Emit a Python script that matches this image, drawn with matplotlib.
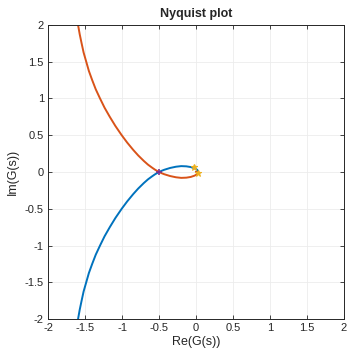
import matplotlib
matplotlib.use("Agg")
import matplotlib.pyplot as plt
import numpy as np

plt.rcParams['font.family'] = ['Liberation Sans', 'DejaVu Sans']

# Nyquist curve (positive frequencies)
re_pos = [-1.625, -1.594, -1.572, -1.546, -1.519, -1.4835, -1.448, -1.403,
          -1.355, -1.297, -1.236, -1.165, -1.089, -1.004, -0.930, -0.848,
          -0.781, -0.705, -0.649, -0.595, -0.552, -0.50, -0.465, -0.43,
          -0.35, -0.27, -0.20, -0.13, -0.07, -0.02, 0.015, 0.03, 0.02, 0.0]
im_pos = [-2.20, -2.00, -1.875, -1.75, -1.625, -1.50, -1.375, -1.25,
          -1.125, -1.00, -0.875, -0.75, -0.625, -0.50, -0.40, -0.30,
          -0.225, -0.15, -0.10, -0.06, -0.03, 0.00, 0.016, 0.030,
          0.055, 0.072, 0.080, 0.077, 0.067, 0.050, 0.030, 0.012, 0.004, 0.0]
# Mirror branch (negative frequencies)
re_neg = list(re_pos)
im_neg = [-v for v in im_pos]

crit_re = [-0.5]
crit_im = [0.0]
end_re = [-0.03, 0.03]
end_im = [0.07, -0.01]

ticks = [-2, -1.5, -1, -0.5, 0, 0.5, 1, 1.5, 2]
tick_labels = ['-2', '-1.5', '-1', '-0.5', '0', '0.5', '1', '1.5', '2']

fig = plt.figure(figsize=(3.48, 3.55), dpi=100)
ax = fig.add_axes([0.138, 0.1014, 0.8505, 0.8282])

ax.plot(re_pos, im_pos, color='#0072BD', lw=1.4)
ax.plot(re_neg, im_neg, color='#D95319', lw=1.4)
ax.plot(crit_re, crit_im, marker='+', color='#7E2F8E', ms=5, mew=1.2, ls='none')
ax.plot(end_re, end_im, marker='*', color='#EDB120', ms=5, mew=0.8, ls='none')

ax.set_xlim(-2, 2)
ax.set_ylim(-2, 2)
ax.set_xticks(ticks)
ax.set_xticklabels(tick_labels)
ax.set_yticks(ticks)
ax.set_yticklabels(tick_labels)
ax.grid(True, color='#ececec', lw=0.6)
ax.set_axisbelow(True)
ax.tick_params(direction='in', length=3, width=0.6, top=True, right=True,
               labelsize=8, colors='#262626', pad=3)
for s in ax.spines.values():
    s.set_color('#262626')
    s.set_linewidth(0.7)

ax.set_xlabel('Re(G(s))', fontsize=9, color='#262626', labelpad=2)
ax.set_ylabel('Im(G(s))', fontsize=9, color='#262626', labelpad=4)
ax.set_title('Nyquist plot', fontsize=9, fontweight='bold', color='#262626', pad=6)

fig.savefig('out.png', dpi=100)
